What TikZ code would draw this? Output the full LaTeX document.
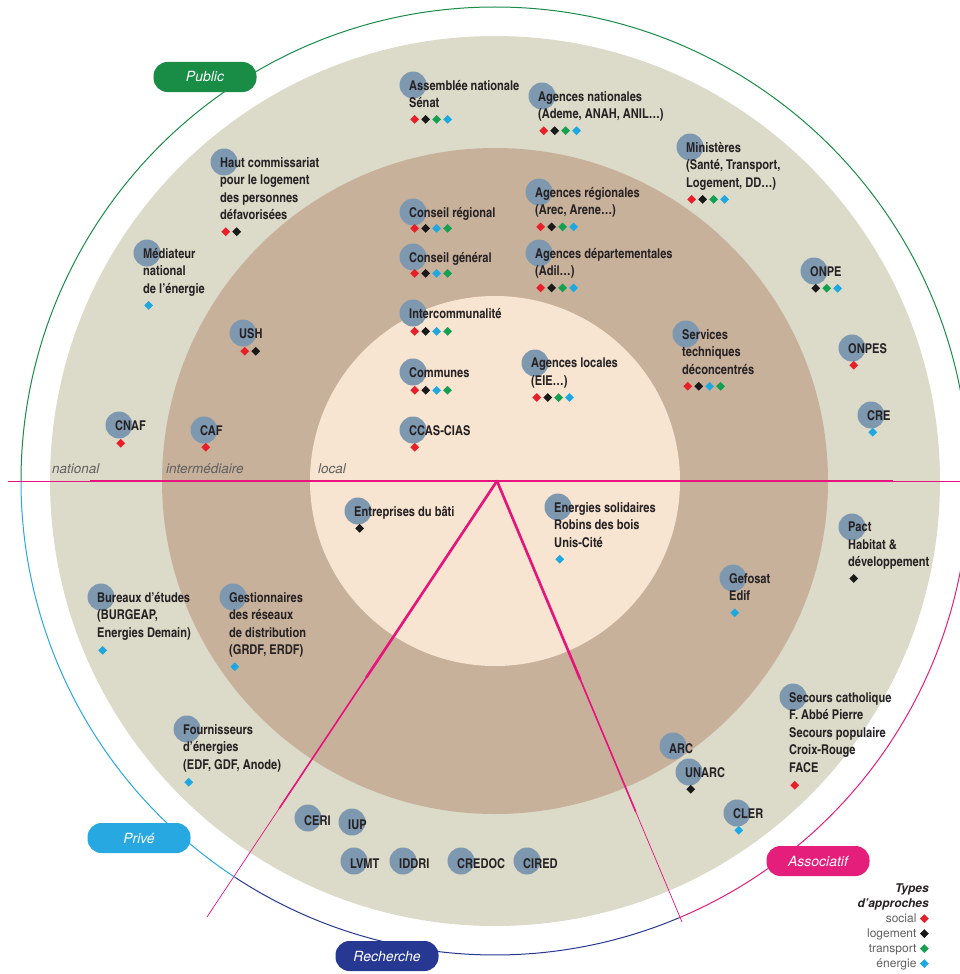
\documentclass[tikz,border=0pt]{standalone}
\usepackage{fontspec}
\usepackage{graphicx}
\usetikzlibrary{calc}
\setmainfont{TeX Gyre Heros}
\newfontfamily\cnfont{texgyreheroscn}[Extension=.otf, UprightFont=*-bold, BoldFont=*-bold]

\definecolor{fond}{RGB}{220,218,201}
\definecolor{brun}{RGB}{200,177,155}
\definecolor{creme}{RGB}{247,228,209}
\definecolor{pastille}{RGB}{126,152,176}
\definecolor{texte}{RGB}{38,34,36}
\definecolor{gristexte}{RGB}{95,95,95}
\definecolor{trait}{RGB}{230,20,125}
\definecolor{public}{RGB}{25,140,70}
\definecolor{prive}{RGB}{40,168,224}
\definecolor{recherche}{RGB}{38,56,145}
\definecolor{associatif}{RGB}{228,30,122}
\definecolor{social}{RGB}{232,30,40}
\definecolor{logement}{RGB}{25,25,25}
\definecolor{transport}{RGB}{20,160,80}
\definecolor{energie}{RGB}{30,168,225}

\newcommand{\losange}[1]{\hspace{1.1pt}\textcolor{#1}{\rotatebox{45}{\rule{6.2pt}{6.2pt}}}\hspace{1.1pt}}
\newcommand{\dsoc}{\losange{social}}
\newcommand{\dlog}{\losange{logement}}
\newcommand{\dtra}{\losange{transport}}
\newcommand{\dene}{\losange{energie}}

\begin{document}
\begin{tikzpicture}[x=1pt, y=-1pt]
            \tikzstyle{org} = [font=\cnfont\fontsize{13.5}{17.5}\selectfont, text=texte,
                align=left, inner sep=0pt, anchor=north west, xshift=-4pt, yshift=5pt,
                execute at begin node={\rule{0pt}{12.5pt}}]
            \tikzstyle{pastille} = [circle, fill=pastille, minimum size=27pt, inner sep=0pt]
            \tikzstyle{pill} = [rounded corners=14pt, minimum width=103pt, minimum height=30pt,
                text=white, font=\itshape\fontsize{14}{16}\selectfont]
            \tikzstyle{niveau} = [font=\itshape\fontsize{13.5}{16}\selectfont, text=gristexte,
                inner sep=0pt, anchor=base west]
            \useasboundingbox (0,0) rectangle (960,974);

            % disques
            \coordinate (ctr) at (495,481);
            \fill[fond] (ctr) circle[radius=445pt];
            \fill[brun] (ctr) circle[radius=333pt];
            \fill[creme] (ctr) circle[radius=185pt];

            % cercle exterieur
            \draw[public, line width=1pt] (ctr) ++(0:474pt)
                arc[start angle=0, end angle=180, radius=474pt];
            \draw[associatif, line width=1pt] (ctr) ++(0:474pt)
                arc[start angle=0, end angle=-67.1, radius=474pt];
            \draw[recherche, line width=1pt] (ctr) ++(-67.1:474pt)
                arc[start angle=-67.1, end angle=-123.3, radius=474pt];
            \draw[prive, line width=1pt] (ctr) ++(-123.3:474pt)
                arc[start angle=-123.3, end angle=-180, radius=474pt];

            % traits roses
            \coordinate (apex) at (497,481);
            \coordinate (ouest) at (8,481);
            \coordinate (est) at (960,481);
            \coordinate (lend) at (207,917);
            \coordinate (rend) at (682,922);
            \draw[trait, line width=0.7pt] (ouest) -- (est);
            \draw[trait, line width=2.6pt] (90,481) -- (893,481);
            \draw[trait, line width=0.7pt] (apex) -- (lend);
            \draw[trait, line width=0.7pt] (apex) -- (rend);
            \draw[trait, line width=1.6pt, line cap=round] (apex) -- ($(apex)!0.75!(lend)$);
            \draw[trait, line width=1.6pt, line cap=round] (apex) -- ($(apex)!0.75!(rend)$);
            \draw[trait, line width=2.6pt, line cap=round] (apex) -- ($(apex)!0.45!(lend)$);
            \draw[trait, line width=2.6pt, line cap=round] (apex) -- ($(apex)!0.45!(rend)$);

            % etiquettes des secteurs
            \node[pill, fill=public] (pub) at (205,77) {Public};
            \node[pill, fill=prive] (pri) at (139,838) {Privé};
            \node[pill, fill=recherche] (rech) at (387,956) {Recherche};
            \node[pill, fill=associatif] (asso) at (818,861) {Associatif};

            % niveaux
            \node[niveau] (nat) at (52,473) {national};
            \node[niveau] (inter) at (166,473) {intermédiaire};
            \node[niveau] (loc) at (318,473) {local};

            % public
            \node[pastille] (ashp) at (413,85) {};
            \node[org] (ash) at (ashp) {Assemblée nationale\\Sénat\\[-1.5pt]\dsoc\dlog\dtra\dene};
            \node[pastille] (anap) at (542,96) {};
            \node[org] (ana) at (anap) {Agences nationales\\(Ademe, ANAH, ANIL…)\\[-1pt]\dsoc\dlog\dtra\dene};
            \node[pastille] (minp) at (690,147) {};
            \node[org] (min) at (minp) {Ministères\\(Santé, Transport,\\Logement, DD…)\\[-1pt]\dsoc\dlog\dtra\dene};
            \node[pastille] (hclp) at (224,162) {};
            \node[org] (hcl) at (hclp) {Haut commissariat\\pour le logement\\des personnes\\défavorisées\\[-1pt]\dsoc\dlog};
            \node[pastille] (medp) at (147,253) {};
            \node[org] (med) at (medp) {Médiateur\\national\\de l’énergie\\[-1pt]\dene};
            \node[pastille] (cregp) at (413,212) {};
            \node[org] (creg) at (cregp) {Conseil régional\\[-2pt]\dsoc\dlog\dene\dtra};
            \node[pastille] (cgenp) at (413,257) {};
            \node[org] (cgen) at (cgenp) {Conseil général\\[-2pt]\dsoc\dlog\dene\dtra};
            \node[pastille] (aregp) at (539,192) {};
            \node[org] (areg) at (aregp) {Agences régionales\\(Arec, Arene…)\\[-1pt]\dsoc\dlog\dtra\dene};
            \node[pastille] (adepp) at (539,253) {};
            \node[org] (adep) at (adepp) {Agences départementales\\(Adil…)\\[-1pt]\dsoc\dlog\dtra\dene};
            \node[pastille] (onpep) at (814,271) {};
            \node[org] (onpe) at (onpep) {ONPE\\[-1pt]\dlog\dtra\dene};
            \node[pastille] (intcp) at (413,313) {};
            \node[org] (intc) at (intcp) {Intercommunalité\\\dsoc\dlog\dene\dtra};
            \node[pastille] (ushp) at (243,333) {};
            \node[org] (ush) at (ushp) {USH\\\dsoc\dlog};
            \node[pastille] (comp) at (413,372) {};
            \node[org] (com) at (comp) {Communes\\\dsoc\dlog\dene\dtra};
            \node[pastille] (alocp) at (535,363) {};
            \node[org] (aloc) at (alocp) {Agences locales\\(EIE…)\\[-1pt]\dsoc\dlog\dtra\dene};
            \node[pastille] (stechp) at (686,334) {};
            \node[org] (stech) at (stechp) {Services\\techniques\\déconcentrés\\[-1pt]\dsoc\dlog\dene\dtra};
            \node[pastille] (onpesp) at (852,348) {};
            \node[org] (onpes) at (onpesp) {ONPES\\[-1pt]\dsoc};
            \node[pastille] (cnafp) at (119,425) {};
            \node[org] (cnaf) at (cnafp) {CNAF\\\dsoc};
            \node[pastille] (cafp) at (204,430) {};
            \node[org] (caf) at (cafp) {CAF\\[-1pt]\dsoc};
            \node[pastille] (ccasp) at (413,430) {};
            \node[org] (ccas) at (ccasp) {CCAS-CIAS\\[-1pt]\dsoc};
            \node[pastille] (crep) at (871,415) {};
            \node[org] (cre) at (crep) {CRE\\[-1pt]\dene};

            % prive, recherche, associatif
            \node[pastille] (ebatp) at (358,511) {};
            \node[org] (ebat) at (ebatp) {Entreprises du bâti\\[-1pt]\dlog};
            \node[pastille] (esolp) at (558,507) {};
            \node[org] (esol) at (esolp) {Energies solidaires\\Robins des bois\\Unis-Cité\\[-1pt]\dene};
            \node[pastille] (pactp) at (852,527) {};
            \node[org] (pact) at (pactp) {Pact\\Habitat \&\\développement\\[-1.5pt]\dlog};
            \node[pastille] (burp) at (101,597) {};
            \node[org] (bur) at (burp) {Bureaux d’études\\(BURGEAP,\\Energies Demain)\\\dene};
            \node[pastille] (gestp) at (233,597) {};
            \node[org] (gest) at (gestp) {Gestionnaires\\des réseaux\\de distribution\\(GRDF, ERDF)\\[-1pt]\dene};
            \node[pastille] (gefp) at (733,578) {};
            \node[org] (gef) at (gefp) {Gefosat\\Edif\\[-1pt]\dene};
            \node[pastille] (fourp) at (187,729) {};
            \node[org] (four) at (fourp) {Fournisseurs\\d’énergies\\(EDF, GDF, Anode)\\\dene};
            \node[pastille] (secp) at (793,697) {};
            \node[org] (sec) at (secp) {Secours catholique\\F. Abbé Pierre\\Secours populaire\\Croix-Rouge\\FACE\\\dsoc};
            \node[pastille] (narcp) at (673,746) {};
            \node[org] (narc) at (narcp) {ARC};
            \node[pastille] (unarcp) at (689,772) {};
            \node[org] (unarc) at (unarcp) {UNARC\\[-1pt]\dlog};
            \node[pastille] (clerp) at (737,813) {};
            \node[org] (cler) at (clerp) {CLER\\[-1pt]\dene};
            \node[pastille] (cerip) at (308,818) {};
            \node[org] (ceri) at (cerip) {CERI};
            \node[pastille] (iupp) at (352,822) {};
            \node[org] (iup) at (iupp) {IUP};
            \node[pastille] (lvmtp) at (354,861) {};
            \node[org] (lvmt) at (lvmtp) {LVMT};
            \node[pastille] (iddrip) at (403,861) {};
            \node[org] (iddri) at (iddrip) {IDDRI};
            \node[pastille] (credocp) at (461,861) {};
            \node[org] (credoc) at (credocp) {CREDOC};
            \node[pastille] (ciredp) at (527,861) {};
            \node[org] (cired) at (ciredp) {CIRED};

            % legende
            \node[font=\fontsize{12}{15}\selectfont, text=gristexte, align=right, inner sep=0pt,
                anchor=north east, execute at begin node={\rule{0pt}{11pt}}] (leg) at (929,884)
                {\textcolor{texte}{\bfseries\itshape Types}\\
                 \textcolor{texte}{\bfseries\itshape d’approches}\\
                 social\hspace{2.5pt}\dsoc\\
                 logement\hspace{2.5pt}\dlog\\
                 transport\hspace{2.5pt}\dtra\\
                 énergie\hspace{2.5pt}\dene};
        \end{tikzpicture}
\end{document}
